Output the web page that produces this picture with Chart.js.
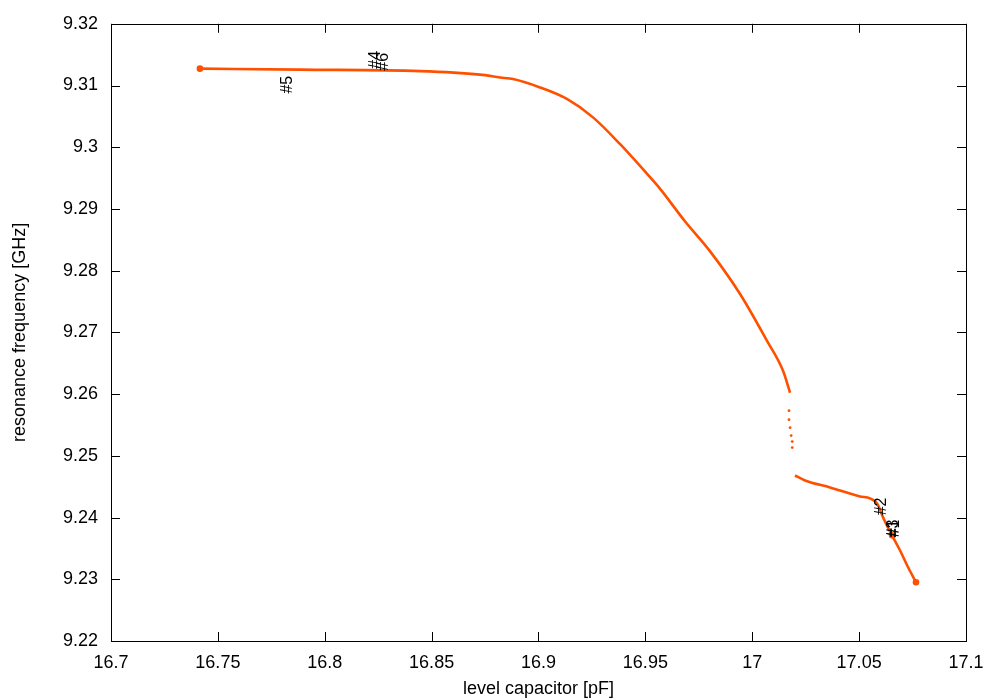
<!DOCTYPE html>
<html>
<head>
<meta charset="utf-8">
<script src="https://cdn.jsdelivr.net/npm/chart.js@4/dist/chart.umd.min.js"></script>
<style>
  body { margin: 0; background: #fff; }
  #wrap { width: 1000px; height: 700px; }
</style>
</head>
<body>
<div id="wrap"><canvas id="resChart" width="1000" height="700"></canvas></div>
<script>
// level capacitor [pF] vs resonance frequency [GHz]
var upperX = [16.7416, 16.7884, 16.8446, 16.8726, 16.8820, 16.8881, 16.9007, 16.9133, 16.9255, 16.9381,
              16.9508, 16.9568, 16.9685, 16.9802, 16.9943, 17.0069, 17.0144, 17.0177];
var upperY = [9.31273, 9.31257, 9.31233, 9.31176, 9.31131, 9.31105, 9.30969, 9.30782, 9.30484, 9.30053,
              9.29568, 9.29330, 9.28801, 9.28317, 9.27622, 9.26863, 9.26378, 9.26022];
// sparse points in the jump
var jumpX = [17.0172, 17.0172, 17.0177, 17.0182, 17.0187, 17.0187];
var jumpY = [9.25732, 9.25586, 9.25457, 9.25328, 9.25231, 9.25134];
var lowerX = [17.0200, 17.0247, 17.0364, 17.0504, 17.0551, 17.0584, 17.0612, 17.0654, 17.0691, 17.0729, 17.0766];
var lowerY = [9.24682, 9.24601, 9.24488, 9.24342, 9.24310, 9.24229, 9.24003, 9.23712, 9.23470, 9.23195, 9.22953];

// marker labels (rotated), anchored at the foot of the text
var markLabels = ['#5', '#4', '#6', '#2', '#3', '#1'];
var markX = [16.7828, 16.8240, 16.8273, 17.0607, 17.0659, 17.0668];
var markY = [9.30869, 9.31273, 9.31241, 9.24036, 9.23680, 9.23680];

var xTicks = [16.7, 16.75, 16.8, 16.85, 16.9, 16.95, 17, 17.05, 17.1];
var yTicks = [9.22, 9.23, 9.24, 9.25, 9.26, 9.27, 9.28, 9.29, 9.3, 9.31, 9.32];

var lineColor = '#ff5000';
var fontFam = '"Liberation Sans", Arial, sans-serif';

function toPoints(xs, ys) {
    return xs.map(function (x, i) { return { x: x, y: ys[i] }; });
}

function fmt(v) {
    return String(parseFloat(Number(v).toFixed(3)));
}

// gnuplot-like frame with inward ticks on every side
var framePlugin = {
    id: 'frame',
    afterDatasetsDraw: function (chart) {
        var c = chart.ctx, a = chart.chartArea;
        var xs = chart.scales.x, ys = chart.scales.y;
        var len = 9;
        c.save();
        c.strokeStyle = '#000';
        c.lineWidth = 1;
        c.beginPath();
        xTicks.forEach(function (v) {
            var p = Math.round(xs.getPixelForValue(v)) + 0.5;
            c.moveTo(p, a.bottom); c.lineTo(p, a.bottom - len);
            c.moveTo(p, a.top); c.lineTo(p, a.top + len);
        });
        yTicks.forEach(function (v) {
            var p = Math.round(ys.getPixelForValue(v)) + 0.5;
            c.moveTo(a.left, p); c.lineTo(a.left + len, p);
            c.moveTo(a.right, p); c.lineTo(a.right - len, p);
        });
        c.stroke();
        c.strokeRect(Math.round(a.left) + 0.5, Math.round(a.top) + 0.5,
                     Math.round(a.right - a.left), Math.round(a.bottom - a.top));
        c.restore();
    }
};

var markPlugin = {
    id: 'marks',
    afterDatasetsDraw: function (chart) {
        var c = chart.ctx;
        c.save();
        c.fillStyle = '#000';
        c.font = '16px ' + fontFam;
        c.textAlign = 'left';
        c.textBaseline = 'middle';
        markLabels.forEach(function (t, i) {
            var px = chart.scales.x.getPixelForValue(markX[i]);
            var py = chart.scales.y.getPixelForValue(markY[i]);
            c.save();
            c.translate(px, py);
            c.rotate(-Math.PI / 2);
            c.fillText(t, 0, 0);
            c.restore();
        });
        c.restore();
    }
};

var ctx = document.getElementById('resChart').getContext('2d');
var resChart = new Chart(ctx, {
    type: 'scatter',
    data: {
        datasets: [{
            data: toPoints(upperX, upperY),
            showLine: true,
            borderColor: lineColor,
            backgroundColor: lineColor,
            borderWidth: 2.6,
            pointRadius: upperX.map(function (v, i) { return i === 0 ? 2 : 0; }),
            cubicInterpolationMode: 'monotone'
        }, {
            data: toPoints(jumpX, jumpY),
            showLine: false,
            borderColor: lineColor,
            backgroundColor: lineColor,
            pointRadius: 1.4,
            pointBorderWidth: 0
        }, {
            data: toPoints(lowerX, lowerY),
            showLine: true,
            borderColor: lineColor,
            backgroundColor: lineColor,
            borderWidth: 2.6,
            pointRadius: lowerX.map(function (v, i) { return (i === lowerX.length - 1 || i === 7) ? 2 : 0; }),
            cubicInterpolationMode: 'monotone'
        }]
    },
    options: {
        responsive: false,
        animation: false,
        events: [],
        layout: { padding: { top: 20, right: 34, left: 0, bottom: 0 } },
        plugins: {
            legend: { display: false },
            tooltip: { enabled: false }
        },
        scales: {
            x: {
                type: 'linear',
                min: 16.7,
                max: 17.1,
                grid: { display: false, drawTicks: false },
                border: { display: false },
                afterBuildTicks: function (s) { s.ticks = xTicks.map(function (v) { return { value: v }; }); },
                afterFit: function (s) { s.height = 59; },
                ticks: {
                    color: '#000',
                    padding: 11,
                    maxRotation: 0,
                    autoSkip: false,
                    font: { family: fontFam, size: 18 },
                    callback: function (v) { return fmt(v); }
                },
                title: {
                    display: true,
                    text: 'level capacitor [pF]',
                    color: '#000',
                    padding: { top: 0, bottom: 0 },
                    font: { family: fontFam, size: 18 }
                }
            },
            y: {
                type: 'linear',
                min: 9.22,
                max: 9.32,
                grid: { display: false, drawTicks: false },
                border: { display: false },
                afterBuildTicks: function (s) { s.ticks = yTicks.map(function (v) { return { value: v }; }); },
                afterFit: function (s) { s.width = 111; },
                ticks: {
                    color: '#000',
                    padding: 13,
                    autoSkip: false,
                    font: { family: fontFam, size: 18 },
                    callback: function (v) { return fmt(v); }
                },
                title: {
                    display: true,
                    text: 'resonance frequency [GHz]',
                    color: '#000',
                    padding: { top: 9, bottom: 0 },
                    font: { family: fontFam, size: 18 }
                }
            }
        }
    },
    plugins: [framePlugin, markPlugin]
});
</script>
</body>
</html>
